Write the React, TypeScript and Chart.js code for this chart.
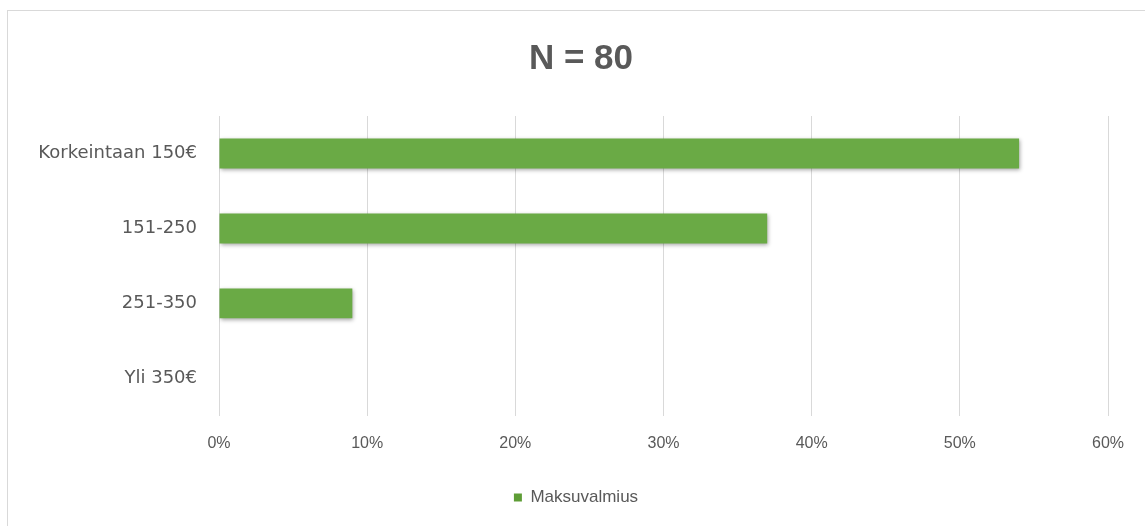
import React, { useEffect, useRef } from "react";
import { Chart, registerables } from "chart.js";

Chart.register(...registerables);

const categories = ["Korkeintaan 150€", "151-250", "251-350", "Yli 350€"];
const seriesName = "Maksuvalmius";
const values = [54, 37, 9, 0];
const titleText = "N = 80";
const xMax = 60;
const xStep = 10;

const shadowPlugin = {
  id: "barShadow",
  beforeDatasetsDraw(chart: any) {
    const ctx = chart.ctx;
    ctx.save();
    ctx.shadowColor = "rgba(0,0,0,0.35)";
    ctx.shadowBlur = 4;
    ctx.shadowOffsetX = 1;
    ctx.shadowOffsetY = 2;
  },
  afterDatasetsDraw(chart: any) {
    chart.ctx.restore();
  },
};

// shift title and legend horizontally to match the original's off-centre placement
const shiftPlugin = {
  id: "shiftBoxes",
  afterLayout(chart: any) {
    const t = chart.titleBlock;
    if (t) {
      t.left += 27;
      t.right += 27;
    }
    const l = chart.legend;
    if (l) {
      l.left += 22;
      l.right += 22;
    }
  },
};

export default function App() {
  const ref = useRef<HTMLCanvasElement | null>(null);
  useEffect(() => {
    const canvas = ref.current!;
    const chart = new Chart(canvas, {
      type: "bar",
      data: {
        labels: categories,
        datasets: [
          {
            label: seriesName,
            data: values,
            backgroundColor: (c: any) => {
              const area = c.chart.chartArea;
              const el = c.element;
              if (!area || !el || !el.y) return "#6aaa45";
              const g = c.chart.ctx.createLinearGradient(0, el.y - 15, 0, el.y + 15);
              g.addColorStop(0, "#7bb655");
              g.addColorStop(1, "#5e9d36");
              return g;
            },
            categoryPercentage: 0.8,
            barPercentage: 0.5,
          },
        ],
      },
      options: {
        indexAxis: "y",
        animation: false,
        responsive: false,
        layout: { padding: { top: 0, right: 37, bottom: 10, left: 0 } },
        scales: {
          x: {
            min: 0,
            max: xMax,
            ticks: {
              stepSize: xStep,
              padding: 18,
              color: "#595959",
              font: { family: "Liberation Sans", size: 16 },
              callback: (v: any) => v + "%",
            },
            grid: { color: "#d9d9d9", drawTicks: false },
            border: { display: false },
          },
          y: {
            afterFit: (s: any) => {
              s.width = 219;
            },
            ticks: {
              padding: 22,
              color: "#595959",
              font: { family: "DejaVu Sans", size: 18 },
            },
            grid: { display: false, drawTicks: false },
            border: { display: false },
          },
        },
        plugins: {
          title: {
            display: true,
            text: titleText,
            color: "#595959",
            font: { family: "Liberation Sans", size: 35, weight: "bold" },
            padding: { top: 38, bottom: 36 },
          },
          legend: {
            display: true,
            position: "bottom",
            labels: {
              color: "#595959",
              font: { family: "Liberation Sans", size: 17 },
              boxWidth: 8,
              boxHeight: 8,
              padding: 18,
            },
          },
          tooltip: { enabled: false },
        },
      },
      plugins: [shadowPlugin, shiftPlugin],
    } as any);
    return () => chart.destroy();
  }, []);
  return (
    <div style={{ position: "absolute", left: 0, top: 0, width: 1145, height: 526, background: "#fff" }}>
      <div
        style={{
          position: "absolute",
          left: 7,
          top: 10,
          width: 1160,
          height: 540,
          borderTop: "1px solid #d9d9d9",
          borderLeft: "1px solid #d9d9d9",
        }}
      />
      <canvas ref={ref} width={1145} height={526} style={{ position: "absolute", left: 0, top: 0 }} />
    </div>
  );
}
